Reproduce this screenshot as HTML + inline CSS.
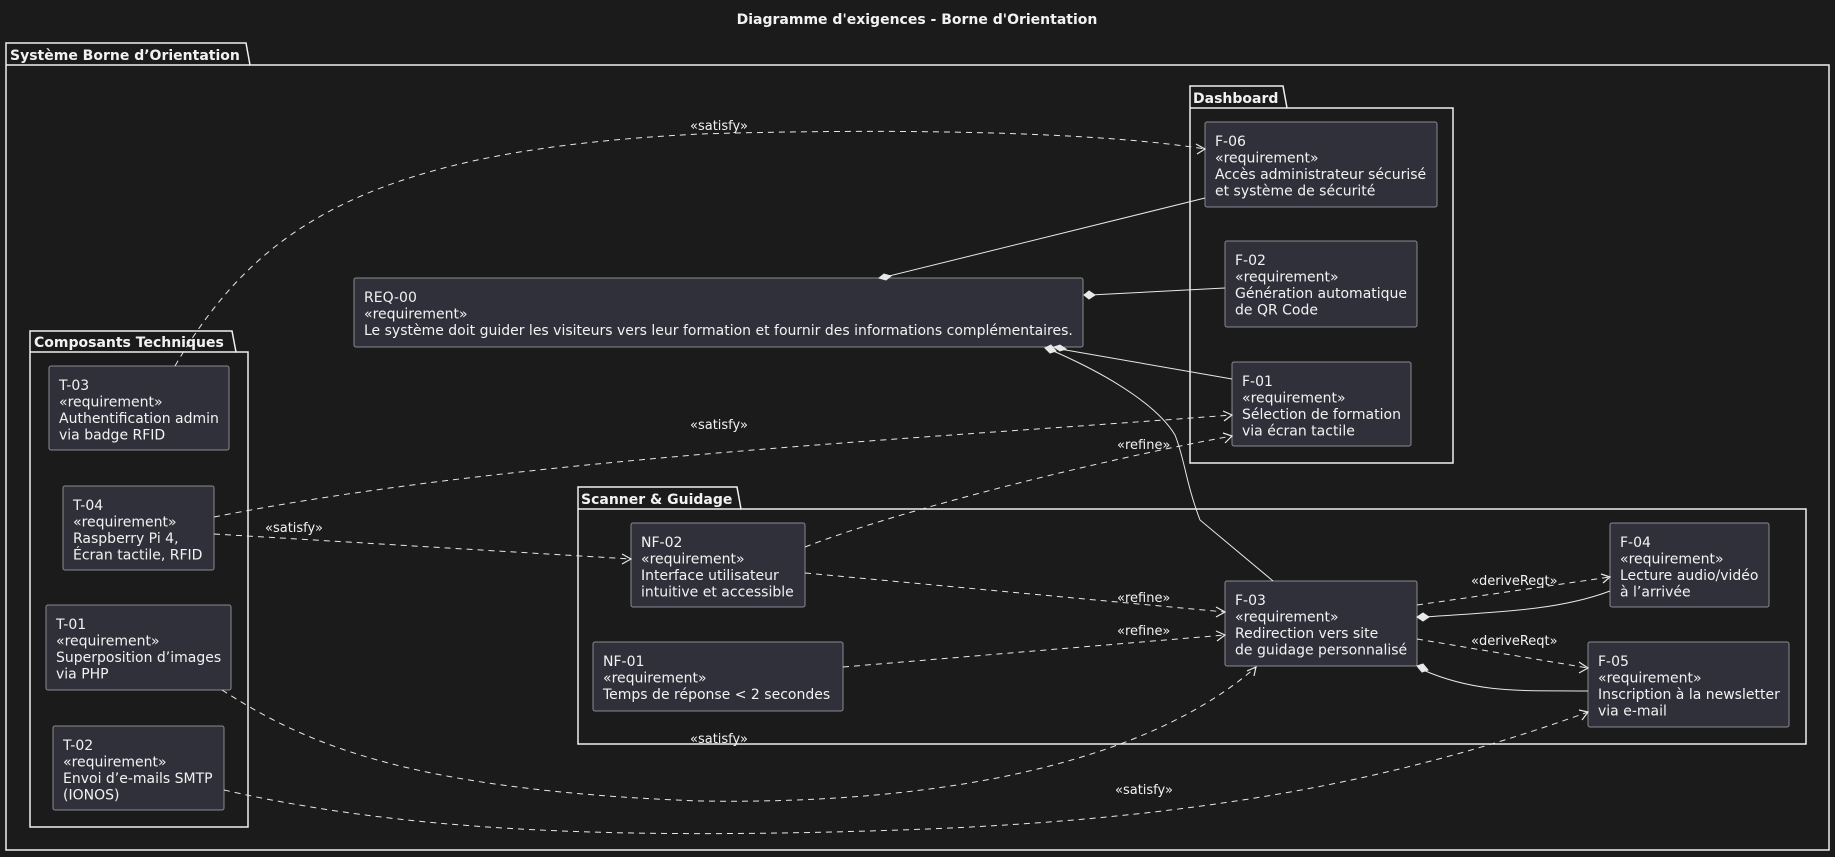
<!DOCTYPE html>
<html><head><meta charset="utf-8"><style>
html,body{margin:0;padding:0;background:#1b1b1c;}
svg{display:block;}
text{font-family:"DejaVu Sans","Liberation Sans",sans-serif;fill:#f2f2f2;}
.n{fill:#30303a;stroke:#8a8a90;stroke-width:1;}
.pk{fill:none;stroke:#f0f0f0;stroke-width:1.5;}
.t{font-size:14px;}
.lb{font-size:13px;}
.d{fill:none;stroke:#e8e8e8;stroke-width:1;stroke-dasharray:6,5;}
.s{fill:none;stroke:#e8e8e8;stroke-width:1;}
.ah{fill:none;stroke:#e8e8e8;stroke-width:1.2;}
.dm{fill:#e8e8e8;stroke:#e8e8e8;}
</style></head><body>
<svg width="1835" height="857" viewBox="0 0 1835 857" xmlns="http://www.w3.org/2000/svg">
<rect width="1835" height="857" fill="#1b1b1c"/>
<text x="917" y="24" text-anchor="middle" font-size="14" font-weight="bold">Diagramme d'exigences - Borne d'Orientation</text>

<path class="pk" d="M6 65 L6 43 L246 43 L250 65 L1829 65 L1829 850 L6 850 Z"/>
<line class="pk" x1="6" y1="65" x2="250" y2="65"/>
<text x="10" y="60" font-size="14" font-weight="bold">Système Borne d’Orientation</text>

<path class="pk" d="M30 352 L30 331 L232 331 L236 352 L248 352 L248 827 L30 827 Z"/>
<line class="pk" x1="30" y1="352" x2="236" y2="352"/>
<text x="34" y="347" font-size="14" font-weight="bold">Composants Techniques</text>

<path class="pk" d="M1190 108 L1190 86 L1283 86 L1287 108 L1453 108 L1453 463 L1190 463 Z"/>
<line class="pk" x1="1190" y1="108" x2="1287" y2="108"/>
<text x="1193" y="103" font-size="14" font-weight="bold">Dashboard</text>

<path class="pk" d="M578 509 L578 487 L737 487 L741 509 L1806 509 L1806 744 L578 744 Z"/>
<line class="pk" x1="578" y1="509" x2="741" y2="509"/>
<text x="581" y="504" font-size="14" font-weight="bold">Scanner &amp; Guidage</text>

<rect class="n" x="354" y="278" width="729" height="69" rx="2"/>
<text class="t" x="364" y="302">REQ-00</text>
<text class="t" x="364" y="318.5">«requirement»</text>
<text class="t" x="364" y="335">Le système doit guider les visiteurs vers leur formation et fournir des informations complémentaires.</text>

<rect class="n" x="49" y="366" width="180" height="84" rx="2"/>
<text class="t" x="59" y="390">T-03</text><text class="t" x="59" y="406.5">«requirement»</text><text class="t" x="59" y="423">Authentification admin</text><text class="t" x="59" y="439.5">via badge RFID</text>

<rect class="n" x="63" y="486" width="151" height="84" rx="2"/>
<text class="t" x="73" y="510">T-04</text><text class="t" x="73" y="526.5">«requirement»</text><text class="t" x="73" y="543">Raspberry Pi 4,</text><text class="t" x="73" y="559.5">Écran tactile, RFID</text>

<rect class="n" x="46" y="605" width="185" height="85" rx="2"/>
<text class="t" x="56" y="629">T-01</text><text class="t" x="56" y="645.5">«requirement»</text><text class="t" x="56" y="662">Superposition d’images</text><text class="t" x="56" y="678.5">via PHP</text>

<rect class="n" x="53" y="726" width="171" height="84" rx="2"/>
<text class="t" x="63" y="750">T-02</text><text class="t" x="63" y="766.5">«requirement»</text><text class="t" x="63" y="783">Envoi d’e-mails SMTP</text><text class="t" x="63" y="799.5">(IONOS)</text>

<rect class="n" x="1205" y="122" width="232" height="85" rx="2"/>
<text class="t" x="1215" y="146">F-06</text><text class="t" x="1215" y="162.5">«requirement»</text><text class="t" x="1215" y="179">Accès administrateur sécurisé</text><text class="t" x="1215" y="195.5">et système de sécurité</text>

<rect class="n" x="1225" y="241" width="192" height="86" rx="2"/>
<text class="t" x="1235" y="265">F-02</text><text class="t" x="1235" y="281.5">«requirement»</text><text class="t" x="1235" y="298">Génération automatique</text><text class="t" x="1235" y="314.5">de QR Code</text>

<rect class="n" x="1232" y="362" width="179" height="84" rx="2"/>
<text class="t" x="1242" y="386">F-01</text><text class="t" x="1242" y="402.5">«requirement»</text><text class="t" x="1242" y="419">Sélection de formation</text><text class="t" x="1242" y="435.5">via écran tactile</text>

<rect class="n" x="631" y="523" width="174" height="84" rx="2"/>
<text class="t" x="641" y="547">NF-02</text><text class="t" x="641" y="563.5">«requirement»</text><text class="t" x="641" y="580">Interface utilisateur</text><text class="t" x="641" y="596.5">intuitive et accessible</text>

<rect class="n" x="593" y="642" width="250" height="69" rx="2"/>
<text class="t" x="603" y="666">NF-01</text><text class="t" x="603" y="682.5">«requirement»</text><text class="t" x="603" y="699">Temps de réponse &lt; 2 secondes</text>

<rect class="n" x="1225" y="581" width="192" height="85" rx="2"/>
<text class="t" x="1235" y="605">F-03</text><text class="t" x="1235" y="621.5">«requirement»</text><text class="t" x="1235" y="638">Redirection vers site</text><text class="t" x="1235" y="654.5">de guidage personnalisé</text>

<rect class="n" x="1610" y="523" width="159" height="84" rx="2"/>
<text class="t" x="1620" y="547">F-04</text><text class="t" x="1620" y="563.5">«requirement»</text><text class="t" x="1620" y="580">Lecture audio/vidéo</text><text class="t" x="1620" y="596.5">à l’arrivée</text>

<rect class="n" x="1588" y="642" width="201" height="85" rx="2"/>
<text class="t" x="1598" y="666">F-05</text><text class="t" x="1598" y="682.5">«requirement»</text><text class="t" x="1598" y="699">Inscription à la newsletter</text><text class="t" x="1598" y="715.5">via e-mail</text>

<path class="s" d="M885 277 L1205 198"/>
<path class="dm" d="M879 278 L884 274 L891 276 L886 280 Z"/>
<path class="s" d="M1090 295 L1225 288"/>
<path class="dm" d="M1084 295 L1089 291 L1095 295 L1089 299 Z"/>
<path class="s" d="M1060 349 L1232 379"/>
<path class="dm" d="M1054 347 L1060 345 L1066 349 L1060 351 Z"/>
<path class="s" d="M1051 350 C1120 380 1160 410 1175 435 C1185 460 1185 480 1200 520 L1273 581"/>
<path class="dm" d="M1045 348 L1051 345 L1056 351 L1050 353 Z"/>
<path class="s" d="M1423 617 C1500 612 1560 610 1610 591"/>
<path class="dm" d="M1417 617 L1423 613 L1429 617 L1423 621 Z"/>
<path class="s" d="M1423 670 C1480 695 1530 690 1588 691"/>
<path class="dm" d="M1417 666 L1423 664 L1428 670 L1422 672 Z"/>

<path class="d" d="M175 366 C260 220 380 150 700 134 C900 128 1100 132 1205 149"/>
<path class="ah" d="M1196 144 L1205 149 L1197 154"/>
<text class="lb" x="690" y="130">«satisfy»</text>

<path class="d" d="M214 517 C500 460 900 440 1232 415"/>
<path class="ah" d="M1223 411 L1232 415 L1224 421"/>
<text class="lb" x="690" y="429">«satisfy»</text>

<path class="d" d="M214 534 L631 559"/>
<path class="ah" d="M622 554 L631 559 L622 564"/>
<text class="lb" x="265" y="532">«satisfy»</text>

<path class="d" d="M805 547 C900 510 1100 460 1232 436"/>
<path class="ah" d="M1223 433 L1232 436 L1225 443"/>
<text class="lb" x="1117" y="449">«refine»</text>

<path class="d" d="M805 573 L1225 612"/>
<path class="ah" d="M1216 607 L1225 612 L1216 617"/>
<text class="lb" x="1117" y="602">«refine»</text>

<path class="d" d="M843 667 L1225 635"/>
<path class="ah" d="M1216 631 L1225 635 L1217 641"/>
<text class="lb" x="1117" y="635">«refine»</text>

<path class="d" d="M222 690 C300 740 400 790 700 801 C950 805 1150 760 1256 667"/>
<path class="ah" d="M1247 671 L1256 667 L1254 676"/>
<text class="lb" x="690" y="743">«satisfy»</text>

<path class="d" d="M224 790 C400 830 600 840 900 830 C1200 820 1400 780 1588 712"/>
<path class="ah" d="M1579 710 L1588 712 L1582 720"/>
<text class="lb" x="1115" y="794">«satisfy»</text>

<path class="d" d="M1417 605 L1610 577"/>
<path class="ah" d="M1601 574 L1610 577 L1603 583"/>
<text class="lb" x="1471" y="585">«deriveReqt»</text>

<path class="d" d="M1417 639 L1588 668"/>
<path class="ah" d="M1579 662 L1588 668 L1579 673"/>
<text class="lb" x="1471" y="645">«deriveReqt»</text>
</svg>
</body></html>
